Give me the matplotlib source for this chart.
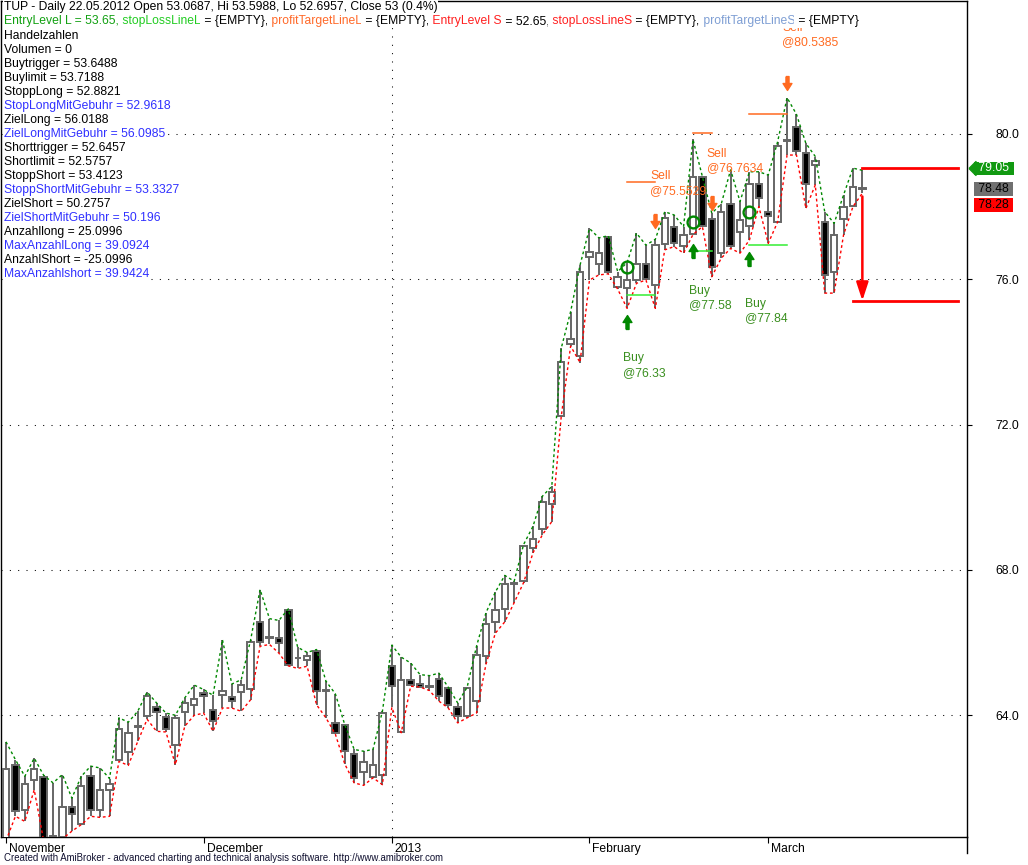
import matplotlib
matplotlib.use('Agg')
import matplotlib.pyplot as plt
import matplotlib.transforms as mtransforms
from matplotlib.path import Path
from matplotlib.lines import Line2D

plt.rcParams['font.family'] = ['Liberation Sans', 'DejaVu Sans']

W, H = 1028, 865
FS = 8.75

# TUP daily bars, Nov 2012 - mid March 2013
opens = [60.62, 62.64, 61.40, 62.23, 62.29, 60.68, 60.64, 61.47, 61.02, 62.34,
         61.40, 61.94, 62.78, 62.99, 63.71, 63.97, 64.22, 63.96, 63.19, 64.09,
         64.29, 64.60, 64.14, 64.56, 64.51, 64.63, 64.71, 66.57, 66.16, 66.13,
         66.91, 65.59, 65.53, 65.76, 64.69, 63.79, 63.72, 62.93, 62.44, 62.30,
         62.36, 65.37, 63.54, 64.98, 64.85, 64.79, 65.01, 64.75, 64.23, 63.97,
         64.39, 65.64, 66.57, 66.93, 67.62, 67.69, 68.61, 69.13, 69.81, 72.25,
         74.21, 73.89, 76.62, 76.42, 77.16, 75.78, 75.75, 75.98, 76.41, 75.84,
         76.97, 77.43, 76.92, 77.24, 78.81, 77.65, 76.72, 78.06, 77.31, 77.47,
         78.62, 77.84, 77.59, 79.84, 80.18, 79.47, 79.15, 77.59, 76.19, 77.65,
         78.03, 78.51]
highs = [63.27, 62.78, 62.32, 62.82, 62.35, 62.14, 62.37, 61.72, 62.32, 62.60,
         62.55, 62.26, 63.93, 63.81, 64.11, 64.64, 64.34, 64.06, 64.00, 64.48,
         64.83, 64.71, 64.55, 66.08, 64.86, 64.98, 66.08, 67.46, 66.66, 66.61,
         66.93, 65.87, 65.73, 65.81, 64.94, 64.59, 63.74, 63.06, 63.01, 63.06,
         64.11, 65.93, 65.60, 65.44, 65.12, 65.09, 65.16, 64.77, 64.34, 64.77,
         65.90, 66.82, 67.39, 67.85, 67.69, 68.70, 69.20, 70.03, 70.30, 74.10,
         75.11, 76.39, 77.40, 77.14, 77.20, 76.21, 76.46, 77.27, 76.94, 77.10,
         77.86, 77.77, 77.45, 79.85, 78.83, 77.82, 78.07, 79.01, 78.14, 78.96,
         78.96, 78.87, 79.79, 81.00, 80.54, 79.74, 79.38, 77.86, 77.54, 78.32,
         79.06, 79.00]
lows = [60.55, 61.22, 61.08, 61.95, 60.55, 60.55, 60.60, 60.81, 60.99, 61.22,
        61.19, 61.22, 62.73, 62.62, 63.28, 63.89, 63.56, 63.54, 62.64, 63.70,
        64.00, 64.06, 63.56, 64.20, 64.20, 64.11, 64.43, 65.90, 65.95, 65.71,
        65.36, 65.29, 65.35, 64.29, 63.93, 63.48, 62.66, 62.14, 62.07, 62.28,
        62.09, 64.22, 63.52, 64.80, 64.78, 64.68, 64.39, 64.20, 63.79, 63.93,
        64.06, 65.40, 66.26, 66.57, 67.10, 67.65, 68.47, 68.97, 69.33, 72.22,
        74.16, 73.71, 75.98, 76.12, 76.15, 75.73, 75.20, 75.89, 75.98, 75.20,
        76.81, 76.90, 76.72, 77.23, 77.45, 76.07, 76.58, 76.85, 76.72, 77.08,
        78.00, 76.99, 77.58, 79.42, 79.42, 77.95, 78.60, 75.62, 75.62, 77.22,
        78.00, 78.37]
closes = [62.51, 61.36, 62.12, 62.53, 60.62, 60.64, 61.47, 61.27, 62.06, 61.38,
          61.95, 62.12, 63.61, 63.50, 63.69, 64.52, 64.08, 63.61, 63.93, 64.34,
          64.46, 64.52, 63.85, 64.67, 64.39, 64.82, 66.02, 66.01, 66.12, 65.99,
          65.38, 65.57, 65.62, 64.68, 64.67, 63.50, 63.01, 62.27, 62.71, 62.64,
          64.06, 64.80, 64.98, 64.82, 64.79, 64.78, 64.52, 64.28, 63.97, 64.75,
          65.67, 66.52, 66.91, 67.60, 67.65, 68.67, 68.84, 69.86, 70.14, 73.73,
          74.35, 76.19, 76.76, 76.72, 76.21, 76.07, 75.98, 76.41, 76.01, 76.94,
          77.68, 77.01, 77.22, 78.81, 77.48, 76.33, 77.85, 76.93, 77.63, 78.62,
          78.23, 77.74, 79.67, 79.82, 79.53, 78.62, 79.26, 76.12, 77.22, 77.98,
          78.53, 78.48]

month_start = [0, 21, 41, 62, 81]
month_names = ['November', 'December', '2013', 'February', 'March']
year_start = 41
price_ticks = [64, 68, 72, 76, 80]

# trade signals
buy_bar = [66, 73, 79]
buy_price = [76.33, 77.58, 77.84]
sell_bar = [69, 75, 83]
sell_price = [75.5529, 76.7634, 80.5385]
target_level = [78.67, 80.02, 80.54]
stop_level = [75.57, 76.78, 76.94]

entry_long = 79.05
last_close = 78.48
entry_short = 78.28
short_target = 75.41

info_lines = [
    ("Handelzahlen", 'black'),
    ("Volumen = 0", 'black'),
    ("Buytrigger = 53.6488", 'black'),
    ("Buylimit = 53.7188", 'black'),
    ("StoppLong = 52.8821", 'black'),
    ("StopLongMitGebuhr = 52.9618", '#3030ff'),
    ("ZielLong = 56.0188", 'black'),
    ("ZielLongMitGebuhr = 56.0985", '#3030ff'),
    ("Shorttrigger = 52.6457", 'black'),
    ("Shortlimit = 52.5757", 'black'),
    ("StoppShort = 53.4123", 'black'),
    ("StoppShortMitGebuhr = 53.3327", '#3030ff'),
    ("ZielShort = 50.2757", 'black'),
    ("ZielShortMitGebuhr = 50.196", '#3030ff'),
    ("Anzahllong = 25.0996", 'black'),
    ("MaxAnzahlLong = 39.0924", '#3030ff'),
    ("AnzahlShort = -25.0996", 'black'),
    ("MaxAnzahlshort = 39.9424", '#3030ff'),
]

fig = plt.figure(figsize=(W / 100, H / 100), dpi=100)
ax = fig.add_axes([1 / W, 1 - 837 / H, 966 / W, 836 / H])
ax.set_xlim(-0.53, 102.12)
ax.set_ylim(60.65, 83.66)

n = len(closes)
xs = list(range(n))

# wicks
ax.vlines(xs, lows, highs, color='#666666', lw=1.4, zorder=2)
# bodies
bottoms = [min(o, c) for o, c in zip(opens, closes)]
heights = [max(abs(c - o), 0.015) for o, c in zip(opens, closes)]
faces = ['white' if c >= o else 'black' for o, c in zip(opens, closes)]
ax.bar(xs, heights, bottom=bottoms, width=0.68, color=faces,
       edgecolor='#666666', linewidth=1.4, zorder=3)

# high / low dashed lines
ax.plot(xs, highs, color='#008800', lw=1.0, dashes=(2, 2), zorder=4)
ax.plot(xs, lows, color='#ff0000', lw=1.0, dashes=(2, 2), zorder=4)

# grid
for p in price_ticks:
    ax.axhline(p, color='black', lw=0.75, dashes=(1, 7), zorder=0.5)
ax.axvline(year_start, color='black', lw=0.75, dashes=(1, 7), zorder=0.5)

# axes styling
for s in ax.spines.values():
    s.set_linewidth(1.0)
ax.yaxis.tick_right()
ax.set_yticks(price_ticks)
ax.set_yticklabels([f'{p:.1f}' for p in price_ticks])
ax.tick_params(axis='y', direction='out', length=3.6, width=0.8, pad=17, labelsize=FS)
ax.set_xticks(month_start)
ax.set_xticklabels(month_names)
ax.tick_params(axis='x', direction='out', length=4, width=0.8, pad=0, labelsize=FS)
shift = mtransforms.ScaledTranslation(3 / 100, 0, fig.dpi_scale_trans)
for lab in ax.get_xticklabels():
    lab.set_ha('left')
    lab.set_transform(lab.get_transform() + shift)

# arrow marker
up_arrow = Path([(-0.11, -0.5), (0.11, -0.5), (0.11, 0.0), (0.32, 0.0), (0.0, 0.5),
                 (-0.32, 0.0), (-0.11, 0.0), (-0.11, -0.5)])
down_arrow = Path([(x, -y) for x, y in up_arrow.vertices])

buy_gap = [7, 9, 12]
buy_text_gap = [44, 50, 58]
for b, p, g, tg in zip(buy_bar, buy_price, buy_gap, buy_text_gap):
    tr = mtransforms.offset_copy(ax.transData, fig=fig, y=-(g + 7), units='dots')
    ax.plot([b], [lows[b]], marker=up_arrow, ms=10, color='#008800', transform=tr, zorder=6)
    ax.plot([b], [p], marker='o', ms=8.5, mfc='none', mec='#008800', mew=1.7, zorder=6)
    ax.annotate(f'Buy\n@{p:.2f}', xy=(b, lows[b]), xytext=(-4, -tg), textcoords='offset pixels',
                ha='left', va='top', color='#3a8f1f', fontsize=FS, linespacing=1.25, zorder=6)

sell_gap = [11, 3, 8]
sell_text_gap = [69, 65, 76]
for s, p, g, tg in zip(sell_bar, sell_price, sell_gap, sell_text_gap):
    tr = mtransforms.offset_copy(ax.transData, fig=fig, y=(g + 7), units='dots')
    ax.plot([s], [highs[s]], marker=down_arrow, ms=10, color='#ff6a20', transform=tr, zorder=6)
    ax.annotate(f'Sell\n@{p:g}', xy=(s, highs[s]), xytext=(-5, tg), textcoords='offset pixels',
                ha='left', va='top', color='#ff6a20', fontsize=FS, linespacing=1.25, zorder=6)

for b, s, t, st in zip(buy_bar, sell_bar, target_level, stop_level):
    ax.plot([b, s], [t, t], color='#ff6a20', lw=1.1, zorder=5)
    ax.plot([b, s], [st, st], color='#33ee33', lw=1.1, zorder=5)

# short setup lines on the right
last = n - 1
ax.plot([last, 101.2], [entry_long, entry_long], color='#ff0000', lw=2, zorder=5)
ax.plot([last - 1, 101.2], [short_target, short_target], color='#ff0000', lw=2, zorder=5)
ax.annotate('', xy=(last, short_target), xytext=(last, entry_short),
            arrowprops=dict(arrowstyle='-|>,head_length=11,head_width=3.6', color='#ff0000',
                            lw=1.8, shrinkA=0, shrinkB=0, mutation_scale=1), zorder=5)

# value tags on the price axis
bl = mtransforms.blended_transform_factory(ax.transAxes, ax.transData)
tag = Path([(-0.25, 0.0), (0.25, 0.5), (0.25, -0.5), (-0.25, 0.0)])
ax.plot([1.0047], [entry_long], marker=tag, ms=10, color='#119911', transform=bl, clip_on=False)
ax.text(1.0085, entry_long, ' 79.05 ', transform=bl, ha='left', va='center', color='white',
        fontsize=FS, bbox=dict(boxstyle='square,pad=0.08', fc='#119911', ec='none'), clip_on=False)
ax.text(1.0085, last_close, f' {last_close:.2f} ', transform=bl, ha='left', va='center', color='black',
        fontsize=FS, bbox=dict(boxstyle='square,pad=0.08', fc='#707070', ec='none'), clip_on=False)
ax.annotate(f' {entry_short:.2f} ', xy=(1.0085, last_close), xycoords=bl, xytext=(0, -15.5),
            textcoords='offset pixels', ha='left', va='center', color='black', fontsize=FS,
            bbox=dict(boxstyle='square,pad=0.08', fc='#ff0000', ec='none'), annotation_clip=False)

# right axis line runs a little below the plot
fig.add_artist(Line2D([967 / W, 967 / W], [1 - 853 / H, 1 - 837 / H], color='black', lw=1.0))

# header text
fig.canvas.draw()
r = fig.canvas.get_renderer()
box = dict(fc='white', ec='none', pad=0.6)
fig.text(4 / W, 1 - 7 / H, 'TUP - Daily 22.05.2012 Open 53.0687, Hi 53.5988, Lo 52.6957, Close 53 (0.4%)',
         fontsize=FS, va='center', ha='left', bbox=box)
parts = [("EntryLevel L = 53.65,", '#11a011'), (" stopLossLineL", '#22cc22'), (" = {EMPTY},", 'black'),
         (" profitTargetLineL", '#ff6a2a'), (" = {EMPTY},", 'black'), (" EntryLevel S", '#ff2020'),
         (" = 52.65,", 'black'), (" stopLossLineS", '#ff2020'), (" = {EMPTY},", 'black'),
         (" profitTargetLineS", '#7f9fd4'), (" = {EMPTY}", 'black')]
xpix = 4
for s, c in parts:
    tt = fig.text(xpix / W, 1 - 21 / H, s, color=c, fontsize=FS, va='center', ha='left', bbox=box)
    xpix += tt.get_window_extent(r).width
for i, (s, c) in enumerate(info_lines):
    fig.text(4 / W, 1 - (36 + 14 * i) / H, s, color=c, fontsize=FS, va='center', ha='left', bbox=box)

fig.text(4 / W, 1 - 858 / H,
         'Created with AmiBroker - advanced charting and technical analysis software. http://www.amibroker.com',
         fontsize=6.9, va='center', ha='left', color='#101030')

fig.savefig('out.png', dpi=100)
